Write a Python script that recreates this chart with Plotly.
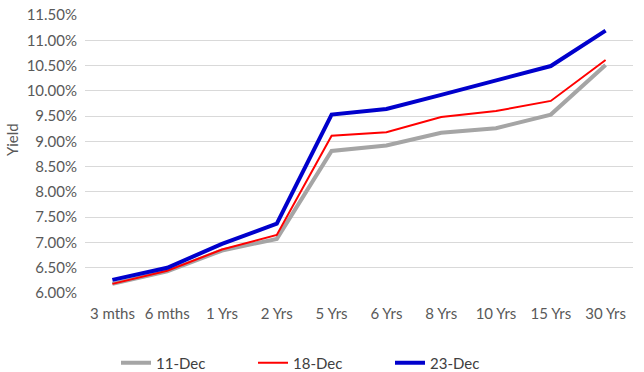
import plotly.graph_objects as go

categories = ["3 mths", "6 mths", "1 Yrs", "2 Yrs", "5 Yrs", "6 Yrs", "8 Yrs", "10 Yrs", "15 Yrs", "30 Yrs"]
dec11 = [6.18, 6.43, 6.84, 7.07, 8.81, 8.92, 9.17, 9.26, 9.53, 10.51]
dec18 = [6.18, 6.44, 6.86, 7.15, 9.11, 9.18, 9.48, 9.60, 9.80, 10.61]
dec23 = [6.26, 6.50, 6.97, 7.37, 9.53, 9.64, 9.92, 10.20, 10.49, 11.19]

FONT = "Lato, Open Sans, sans-serif"

fig = go.Figure()
fig.add_trace(go.Scatter(x=categories, y=dec11, name="11-Dec", mode="lines",
                         line=dict(color="#A5A5A5", width=4)))
fig.add_trace(go.Scatter(x=categories, y=dec18, name="18-Dec", mode="lines",
                         line=dict(color="#FF0000", width=2)))
fig.add_trace(go.Scatter(x=categories, y=dec23, name="23-Dec", mode="lines",
                         line=dict(color="#0000CC", width=4)))

fig.update_layout(
    width=644, height=372, autosize=False,
    margin=dict(l=85, r=11, t=15, b=79, autoexpand=False),
    paper_bgcolor="white", plot_bgcolor="white",
    font=dict(family=FONT, size=15, color="#595959"),
    showlegend=True,
    legend=dict(orientation="h", x=(116 - 85) / 548, xanchor="left",
                yref="container", y=1 - 363 / 372, yanchor="middle",
                entrywidth=92, entrywidthmode="pixels",
                font=dict(size=15, color="#404040")),
    xaxis=dict(showgrid=False, showline=False, ticks="outside", ticklen=7,
               tickcolor="rgba(0,0,0,0)", automargin=False,
               range=[-0.5, len(categories) - 0.5],
               tickfont=dict(size=15, color="#595959")),
    yaxis=dict(range=[6, 11.5], dtick=0.5, tick0=6, showgrid=True, gridcolor="#D9D9D9",
               gridwidth=1, zeroline=False, showline=False, ticksuffix="%",
               automargin=False, ticks="outside", ticklen=4, tickcolor="rgba(0,0,0,0)",
               tickformat=".2f", tickfont=dict(size=15, color="#595959")),
    annotations=[dict(text="Yield", textangle=-90, xref="paper", yref="paper",
                      x=(12 - 85) / 548, y=0.55, xanchor="center", yanchor="middle",
                      showarrow=False, font=dict(size=15, color="#595959"))],
)

fig.write_html("out.html", config={"displayModeBar": False},
               post_script="document.body.style.margin='0';")
